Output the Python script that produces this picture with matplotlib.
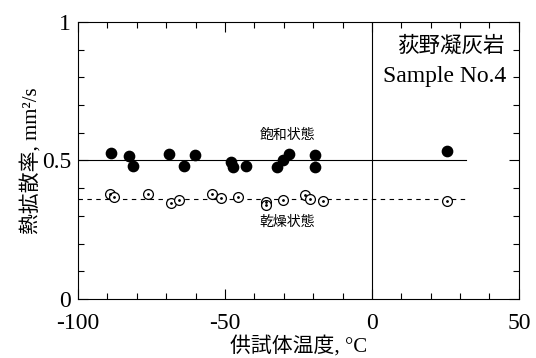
import matplotlib
matplotlib.use("Agg")
import matplotlib.pyplot as plt
from matplotlib.ticker import MultipleLocator

plt.rcParams['font.family'] = ['Liberation Serif', 'Noto Sans CJK JP', 'DejaVu Sans']

sat_temp = [-88.8, -82.8, -81.2, -69.0, -64.0, -60.1, -48.1, -47.2, -42.9,
            -32.2, -30.4, -28.2, -19.3, -19.2, 25.4]
sat_val = [0.528, 0.515, 0.480, 0.525, 0.481, 0.519, 0.496, 0.475, 0.480,
           0.475, 0.502, 0.522, 0.521, 0.477, 0.534]
dry_temp = [-89.1, -87.8, -76.3, -68.4, -65.5, -54.4, -51.4, -45.7, -36.1,
            -36.1, -30.4, -22.7, -20.9, -16.6, 25.4]
dry_val = [0.379, 0.368, 0.378, 0.347, 0.356, 0.380, 0.365, 0.369, 0.351,
           0.338, 0.357, 0.376, 0.361, 0.354, 0.354]
sat_mean = 0.50
dry_mean = 0.36
line_x = [-100, 32]

fig = plt.figure(figsize=(5.36, 3.58), dpi=100)
ax = fig.add_axes([0.1455, 0.165, 0.8225, 0.7735])

ax.plot(line_x, [sat_mean, sat_mean], color='black', lw=0.8)
ax.plot(line_x, [dry_mean, dry_mean], color='black', lw=0.8, ls=(0, (4, 4)))
ax.axvline(0, color='black', lw=0.8)

ax.scatter(sat_temp, sat_val, s=55, color='black', zorder=3)
ax.scatter(dry_temp, dry_val, s=50, facecolor='white', edgecolor='black', lw=0.9, zorder=3)
ax.scatter(dry_temp, dry_val, s=1, color='black', zorder=4)

ax.set_xlim(-100, 50)
ax.set_ylim(0, 1)
ax.xaxis.set_minor_locator(MultipleLocator(10))
ax.yaxis.set_minor_locator(MultipleLocator(0.1))
ax.set_xticks([-100, -50, 0, 50])
ax.set_xticklabels(['-100', '-50', '0', '50'])
ax.set_yticks([0, 0.5, 1])
ax.set_yticklabels(['0', '0.5', '1'])
ax.tick_params(which='both', direction='in', top=True, right=True, labelsize=17, width=0.8)
ax.tick_params(axis='x', which='major', pad=10)
ax.tick_params(axis='y', which='major', pad=5)
ax.tick_params(which='major', length=7)
ax.tick_params(which='minor', length=4)
for sp in ax.spines.values():
    sp.set_linewidth(0.8)

ax.set_xlabel('供試体温度, °C', fontsize=15, labelpad=2)
ax.set_ylabel('熱拡散率, mm²/s', fontsize=15, labelpad=0)

ax.text(-28.7, 0.592, '飽和状態', fontsize=10, ha='center', va='center')
ax.text(-28.7, 0.278, '乾燥状態', fontsize=10, ha='center', va='center')
ax.text(45.6, 0.912, '荻野凝灰岩', fontsize=15.5, ha='right', va='center')
ax.text(45.6, 0.803, 'Sample No.4', fontsize=17, ha='right', va='center')

fig.savefig('out.png', dpi=100)
